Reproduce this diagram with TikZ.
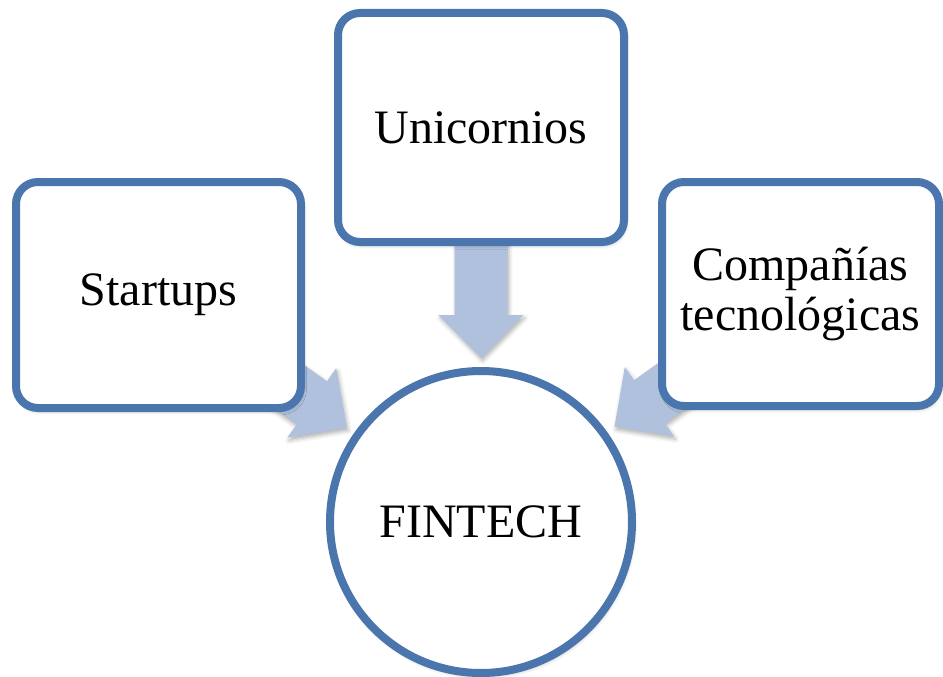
\documentclass[tikz,border=0pt]{standalone}
\usepackage{fontspec}
\setmainfont{Liberation Serif}
\usetikzlibrary{calc,backgrounds,shadows.blur}
\definecolor{boxline}{HTML}{4A76AD}
\definecolor{arrowfill}{HTML}{AFC1DD}
\begin{document}
\begin{tikzpicture}[x=1pt,y=-1pt,
  softshadow/.style={blur shadow={shadow xshift=1.5pt, shadow yshift=-3pt, shadow blur radius=4pt, shadow opacity=30}},
  box/.style={draw=boxline, line width=8pt, fill=white, rounded corners=22pt,
    align=center, font=\fontsize{48}{50}\selectfont, inner sep=0pt, softshadow},
  circ/.style={circle, draw=boxline, line width=8pt, fill=white,
    font=\fontsize{48}{50}\selectfont, inner sep=0pt, softshadow},
  blockarrow/.style={fill=arrowfill, softshadow}]
\useasboundingbox (0,0) rectangle (943,677);
\node[box, minimum width=285pt, minimum height=226pt] (st) at (158.5,295) {Startups};
\node[box, minimum width=286pt, minimum height=229pt] (un) at (481,127.5) {Unicornios};
\node[box, minimum width=277pt, minimum height=224pt] (co) at (800.5,294) {Compañías\\tecnológicas};
\node[circ, minimum size=302pt] (fin) at (481,522) {FINTECH};
\begin{scope}[on background layer]
\foreach \s in {st,un,co}{
  \coordinate (tip-\s) at ($(fin)!164pt!(\s)$);
  \coordinate (hb-\s) at ($(tip-\s)!43pt!(\s)$);
  \fill[blockarrow]
    ($(\s)!26.5pt!90:(tip-\s)$) --
    ($(hb-\s)!26.5pt!-90:(\s)$) --
    ($(hb-\s)!42.5pt!-90:(\s)$) --
    (tip-\s) --
    ($(hb-\s)!42.5pt!90:(\s)$) --
    ($(hb-\s)!26.5pt!90:(\s)$) --
    ($(\s)!26.5pt!-90:(tip-\s)$) -- cycle;
}
\end{scope}
\end{tikzpicture}
\end{document}
